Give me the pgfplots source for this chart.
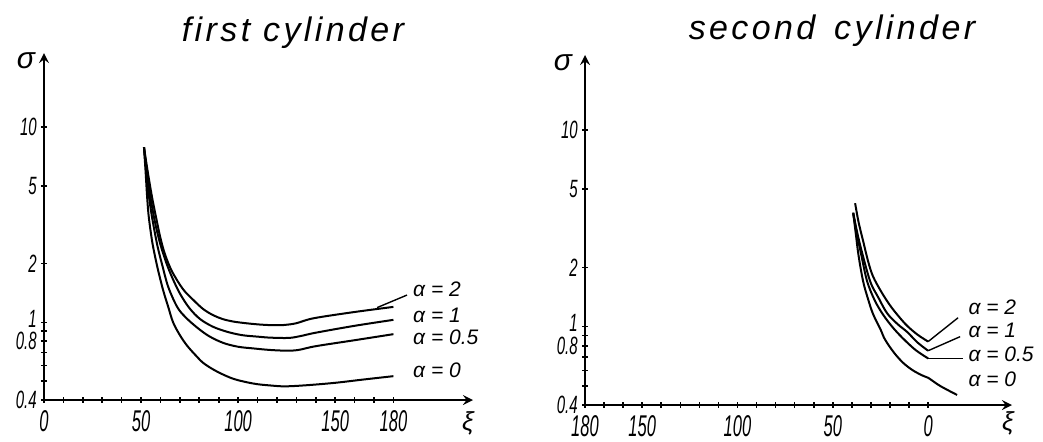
\documentclass[border=0pt]{standalone}
\usepackage{fontspec}
\setmainfont{Liberation Sans}
\usepackage{pgfplots}
\pgfplotsset{compat=1.18}
\pgfplotsset{
 myax/.style={
  scale only axis, ymin=0.4, ymax=24,
  axis line style={line width=1.2pt},
  y axis line style={-stealth},
  tick align=center, major tick length=3pt, minor tick length=3pt,
  every tick/.style={black, line width=0.8pt},
  ytick={0.4,0.8,1,2,5,10},
  yticklabels={0.4,{\raisebox{-3pt}{0.8}},{\raisebox{3.5pt}{1}},2,5,10},
  minor ytick={0.5,0.6,0.7,0.9},
  xticklabel style={font=\fontsize{15}{15}\selectfont\itshape, xscale=0.55},
  yticklabel style={font=\fontsize{12.5}{12.5}\selectfont\itshape, xscale=0.6},
  /pgf/number format/assume math mode=true,
  clip=false,
 },
}
\tikzset{lab/.style={font=\fontsize{10.5}{10.5}\selectfont\itshape, anchor=west, inner sep=0pt},
 crv/.style={black, line width=1pt, smooth, tension=0.55}}
\begin{document}
\begin{tikzpicture}
\path[use as bounding box] (0pt,0pt) rectangle (521.5pt,220.5pt);
% ---------------- first cylinder ----------------
\begin{axis}[ymode=log, myax, axis lines*=left, x axis line style={-stealth},
  at={(22pt,20.5pt)}, anchor=south west, width=214.5pt, height=173.5pt,
  xmin=0, xmax=221, xtick={0,50,100,150,180}, minor xtick={10,20,...,170}]
% alpha = 0
\addplot[crv] coordinates {(51.5,7.9) (52.3,6.0) (53,4.6) (53.8,3.6) (55,2.9) (56.2,2.44) (58.5,1.9) (61.3,1.47) (64,1.2) (66.5,1.0) (70,0.86) (73.7,0.76) (78,0.68) (82,0.62) (87,0.575) (92.3,0.54) (98,0.512) (104.6,0.493) (110,0.482) (116.5,0.475) (124,0.47) (135,0.476) (150,0.49) (165,0.51) (180,0.53)};
% alpha = 0.5
\addplot[crv] coordinates {(51.5,7.9) (52.5,6.2) (53.5,4.9) (55,3.8) (56.5,3.1) (58.5,2.45) (61,1.95) (64,1.52) (68.6,1.2) (73,1.06) (78.9,0.94) (85,0.85) (92.3,0.785) (100,0.75) (108,0.735) (116.5,0.722) (125,0.716) (131,0.722) (140,0.755) (160,0.81) (180,0.87)};
% alpha = 1
\addplot[crv] coordinates {(51.5,7.9) (52.8,6.2) (54,5.0) (55.5,4.0) (57.5,3.15) (60,2.5) (63,2.02) (66,1.7) (70.1,1.4) (75,1.18) (80.4,1.04) (87,0.95) (94.3,0.895) (102,0.86) (110,0.845) (116.5,0.835) (126,0.832) (132,0.85) (140,0.885) (160,0.96) (180,1.03)};
% alpha = 2
\addplot[crv] coordinates {(51.5,7.9) (53,6.3) (54.5,5.1) (56,4.2) (58,3.35) (60,2.7) (62.4,2.22) (66,1.82) (71.6,1.48) (77,1.3) (82,1.17) (87,1.09) (92,1.04) (97.4,1.01) (104,0.99) (111,0.975) (118,0.967) (124,0.97) (130,0.99) (139,1.05) (160,1.13) (180,1.2)};
\draw[line width=0.7pt] (axis cs:187,1.38) -- (axis cs:171.6,1.19);
\node[lab] at (axis cs:190,1.47) {α = 2};
\node[lab] at (axis cs:190,1.09) {α = 1};
\node[lab] at (axis cs:190,0.84) {α = 0.5};
\node[lab] at (axis cs:190,0.57) {α = 0};
\end{axis}
% ---------------- second cylinder ----------------
\begin{axis}[ymode=log, myax, x dir=reverse, axis x line*=bottom, axis y line*=left,
  x axis line style={stealth-},
  at={(292.5pt,18pt)}, anchor=south west, width=213.5pt, height=175pt,
  xmin=-44, xmax=180, xtick={0,50,100,150,180}, minor xtick={10,20,...,170}]
% alpha = 0
\addplot[crv] coordinates {(39.3,3.77) (38,3.0) (36.5,2.3) (34.1,1.7) (31.5,1.38) (28.9,1.16) (25,0.97) (22.6,0.86) (18,0.74) (13.1,0.655) (8,0.6) (3,0.565) (0,0.55) (-6.3,0.5) (-15.2,0.45)};
% alpha = 0.5
\addplot[crv] coordinates {(39.3,3.77) (37.5,3.0) (35,2.3) (32,1.7) (28,1.36) (23.6,1.15) (18.5,0.99) (13.1,0.87) (6.5,0.76) (0,0.69)};
% alpha = 1
\addplot[crv] coordinates {(39.3,3.8) (37.5,3.1) (35,2.45) (30.4,1.7) (26,1.4) (21.5,1.17) (16,1.03) (11,0.94) (5.5,0.83) (0,0.755)};
% alpha = 2
\addplot[crv] coordinates {(38.3,4.24) (36.5,3.4) (34,2.7) (31.5,2.15) (28.9,1.8) (24.5,1.5) (19.9,1.28) (15.5,1.13) (11,1.01) (5.5,0.91) (0,0.84)};
\draw[line width=0.7pt] (axis cs:0,0.84) -- (axis cs:-15.7,1.11);
\draw[line width=0.7pt] (axis cs:0,0.755) -- (axis cs:-16.8,0.89);
\draw[line width=0.7pt] (axis cs:0,0.69) -- (axis cs:-18.4,0.69);
\node[lab] at (axis cs:-21,1.26) {α = 2};
\node[lab] at (axis cs:-21,0.96) {α = 1};
\node[lab] at (axis cs:-21,0.72) {α = 0.5};
\node[lab] at (axis cs:-21,0.54) {α = 0};
\end{axis}
% ---------------- titles and axis names ----------------
\node[font=\fontsize{17}{17}\selectfont\itshape\addfontfeature{LetterSpace=10}] at (146.5pt,204pt) {first cylinder};
\node[font=\fontsize{17}{17}\selectfont\itshape\addfontfeature{LetterSpace=10}] at (416pt,205pt) {second\hspace{3pt} cylinder};
\node[font=\fontsize{15}{15}\selectfont\itshape] at (13pt,190pt) {σ};
\node[font=\fontsize{15}{15}\selectfont\itshape] at (281.5pt,189pt) {σ};
\node[font=\fontsize{13}{13}\selectfont\itshape] at (234pt,9pt) {ξ};
\node[font=\fontsize{13}{13}\selectfont\itshape] at (504pt,9pt) {ξ};
\end{tikzpicture}
\end{document}
